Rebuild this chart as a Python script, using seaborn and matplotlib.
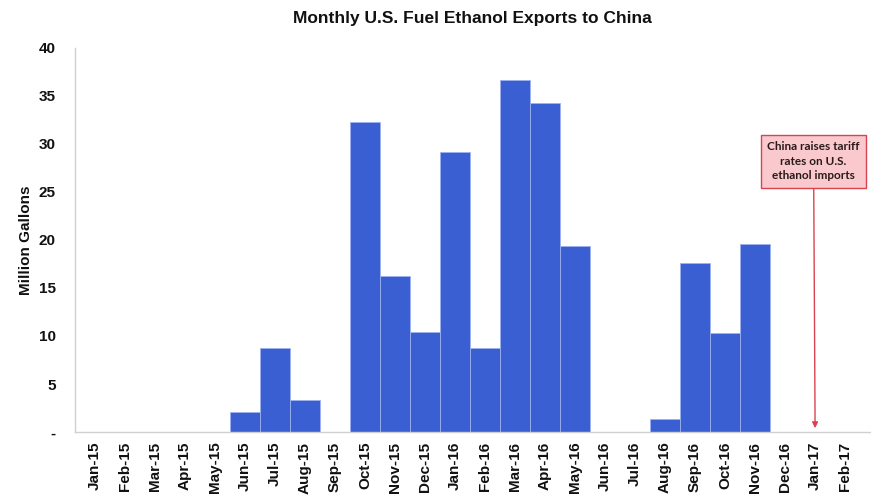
import matplotlib
matplotlib.use("Agg")
import matplotlib.pyplot as plt
import seaborn as sns
import pandas as pd

months = ["Jan-15", "Feb-15", "Mar-15", "Apr-15", "May-15", "Jun-15", "Jul-15",
          "Aug-15", "Sep-15", "Oct-15", "Nov-15", "Dec-15", "Jan-16", "Feb-16",
          "Mar-16", "Apr-16", "May-16", "Jun-16", "Jul-16", "Aug-16", "Sep-16",
          "Oct-16", "Nov-16", "Dec-16", "Jan-17", "Feb-17"]
exports = [0, 0, 0, 0, 0, 2.1, 8.8, 3.3, 0, 32.3, 16.2, 10.4, 29.2, 8.7,
           36.7, 34.3, 19.4, 0, 0, 1.4, 17.6, 10.3, 19.6, 0, 0, 0]
ytick_vals = [0, 5, 10, 15, 20, 25, 30, 35, 40]
ytick_labels = ["-", "5", "10", "15", "20", "25", "30", "35", "40"]
annot_text = "China raises tariff\nrates on U.S.\nethanol imports"
annot_month = "Jan-17"

df = pd.DataFrame({"month": months, "gallons": exports})

sns.set_style("white")
plt.rcParams["font.family"] = ["Liberation Sans", "DejaVu Sans"]
plt.rcParams["text.color"] = "#111111"
plt.rcParams["axes.labelcolor"] = "#111111"
plt.rcParams["xtick.color"] = "#111111"
plt.rcParams["ytick.color"] = "#111111"

fig = plt.figure(figsize=(8.71, 5.04), dpi=100)
ax = fig.add_axes([75 / 871, 1 - 432 / 504, (870 - 75) / 871, (432 - 48) / 504])

sns.barplot(data=df, x="month", y="gallons", color="#3a5fd2", width=1.0,
            edgecolor="#9db2ee", linewidth=0.6, saturation=1, ax=ax)

ax.set_xlim(-0.67, len(months) - 0.17)
ax.set_ylim(0, 40)
ax.set_yticks(ytick_vals)
ax.set_yticklabels(ytick_labels, fontsize=11, fontweight="bold")
ax.set_xticks(range(len(months)))
ax.set_xticklabels(months, rotation=90, fontsize=11, fontweight="bold")
ax.set_xlabel("")
ax.set_ylabel("Million Gallons", fontsize=11, fontweight="bold", labelpad=4)
ax.set_title("Monthly U.S. Fuel Ethanol Exports to China", fontsize=12.5,
             fontweight="bold", pad=18)

for s in ["top", "right"]:
    ax.spines[s].set_visible(False)
for s in ["left", "bottom"]:
    ax.spines[s].set_color("#d0d0d0")
    ax.spines[s].set_linewidth(1.0)
ax.tick_params(axis="both", length=3, color="#d0d0d0")
ax.tick_params(axis="y", pad=11)
ax.tick_params(axis="x", pad=4)

xi = months.index(annot_month)
ax.annotate(annot_text, xy=(xi, 0.4), xytext=(xi - 0.05, 28.2),
            ha="center", va="center", fontsize=8.5, fontweight="bold",
            family=["Lato", "DejaVu Sans"], color="#2a1a1a", linespacing=1.4,
            bbox=dict(boxstyle="square,pad=0.55", fc="#f9c9cd", ec="#d9434f", lw=1.0),
            arrowprops=dict(arrowstyle="-|>,head_length=0.4,head_width=0.2",
                            color="#d9434f", lw=1.0, shrinkA=0, shrinkB=0),
            annotation_clip=False)

fig.savefig("out.png", dpi=100)
